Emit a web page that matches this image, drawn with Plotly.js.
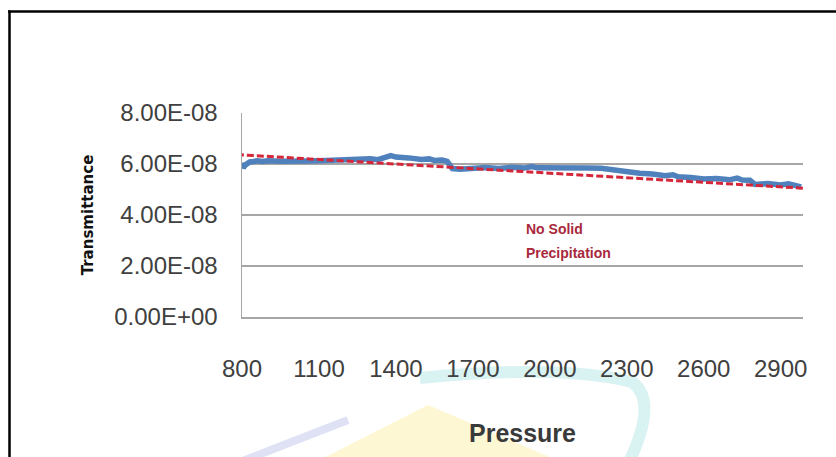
<!DOCTYPE html>
<html>
<head>
<meta charset="utf-8">
<script src="https://cdn.plot.ly/plotly-3.0.1.min.js"></script>
<style>
  html, body { margin: 0; padding: 0; background: #ffffff; }
  #chart { width: 836px; height: 457px; }
</style>
</head>
<body>
<div id="chart"></div>
<script>
const pressure = [800, 805, 812, 820, 830, 845, 860, 880, 900, 950, 1000, 1050, 1100, 1150, 1200, 1230, 1250, 1300, 1330, 1350, 1380, 1400, 1430, 1450, 1500, 1530, 1550, 1580, 1600, 1620, 1650, 1700, 1750, 1800, 1850, 1900, 1930, 1950, 2000, 2050, 2100, 2150, 2200, 2250, 2300, 2350, 2400, 2450, 2480, 2500, 2550, 2600, 2650, 2700, 2730, 2750, 2780, 2800, 2850, 2900, 2930, 2950, 2980];
const transmittance = [6.05e-8, 5.85e-8, 5.95e-8, 6.02e-8, 6.08e-8, 6.1e-8, 6.13e-8, 6.1e-8, 6.13e-8, 6.11e-8, 6.14e-8, 6.12e-8, 6.13e-8, 6.15e-8, 6.18e-8, 6.14e-8, 6.2e-8, 6.21e-8, 6.17e-8, 6.25e-8, 6.33e-8, 6.27e-8, 6.22e-8, 6.24e-8, 6.18e-8, 6.2e-8, 6.14e-8, 6.16e-8, 6.1e-8, 5.82e-8, 5.79e-8, 5.84e-8, 5.86e-8, 5.82e-8, 5.87e-8, 5.84e-8, 5.9e-8, 5.85e-8, 5.86e-8, 5.83e-8, 5.87e-8, 5.84e-8, 5.83e-8, 5.75e-8, 5.71e-8, 5.64e-8, 5.61e-8, 5.54e-8, 5.58e-8, 5.5e-8, 5.47e-8, 5.41e-8, 5.43e-8, 5.38e-8, 5.45e-8, 5.37e-8, 5.36e-8, 5.2e-8, 5.23e-8, 5.18e-8, 5.22e-8, 5.17e-8, 5.1e-8];

// Linear trend (red dashed)
const trendPressure = [780, 2987];
const trendTransmittance = [6.37e-8, 5.05e-8];

// Axis ticks
const xTickVals = [800, 1100, 1400, 1700, 2000, 2300, 2600, 2900];
const xTickText = ["800", "1100", "1400", "1700", "2000", "2300", "2600", "2900"];
const yTickVals = [0, 2e-8, 4e-8, 6e-8, 8e-8];
const yTickText = ["0.00E+00", "2.00E-08", "4.00E-08", "6.00E-08", "8.00E-08"];

const noteLines = ["No Solid", "Precipitation"];

const tickFont = { family: "'Liberation Sans Narrow', 'Arial Narrow', 'Liberation Sans', sans-serif", size: 24, color: "#404040" };

const traces = [
  {
    x: pressure, y: transmittance, type: "scatter", mode: "lines",
    line: { color: "#4f81bd", width: 5.5 }, hoverinfo: "skip", showlegend: false
  },
  {
    x: trendPressure, y: trendTransmittance, type: "scatter", mode: "lines",
    line: { color: "#d4283a", width: 3, dash: "7px,3px" }, hoverinfo: "skip", showlegend: false, cliponaxis: false
  }
];

// pixel -> paper helpers for decorative watermark / border
const L = 242, R = 803, T = 113, B = 317;
const px = v => (v - L) / (R - L);
const py = v => (B - v) / (B - T);

const shapes = [
  // faint watermark
  { type: "path", xref: "paper", yref: "paper", layer: "below",
    path: `M ${px(300)} ${py(470)} L ${px(428)} ${py(405)} L ${px(580)} ${py(470)} Z`,
    fillcolor: "rgba(253,240,170,0.5)", line: { width: 0 } },
  { type: "path", xref: "paper", yref: "paper", layer: "below",
    path: `M ${px(420)} ${py(378)} Q ${px(560)} ${py(364)} ${px(632)} ${py(382)} Q ${px(660)} ${py(402)} ${px(625)} ${py(470)}`,
    line: { color: "rgba(180,230,230,0.5)", width: 12 } },
  { type: "line", xref: "paper", yref: "paper", layer: "below",
    x0: px(240), y0: py(462), x1: px(348), y1: py(420),
    line: { color: "rgba(205,210,238,0.65)", width: 8 } },
  // frame border (top and left)
  { type: "line", xref: "paper", yref: "paper", x0: px(8), y0: py(11.5), x1: px(840), y1: py(11.5),
    line: { color: "#000000", width: 2.5 } },
  { type: "line", xref: "paper", yref: "paper", x0: px(9.5), y0: py(10.5), x1: px(9.5), y1: py(460),
    line: { color: "#000000", width: 2.5 } }
];

const layout = {
  width: 836, height: 457,
  margin: { l: L, r: 836 - R, t: T, b: 457 - B, pad: 0 },
  paper_bgcolor: "#ffffff", plot_bgcolor: "#ffffff",
  showlegend: false,
  xaxis: {
    type: "linear", range: [800, 2987], autorange: false,
    tickmode: "array", tickvals: xTickVals, ticktext: xTickText,
    showgrid: false, zeroline: false, showline: true, linecolor: "#a6a6a6", linewidth: 1.5,
    ticks: "", ticklabelstandoff: 30, tickfont: tickFont,
    title: { text: "Pressure", standoff: 43,
      font: { family: "'Liberation Sans Narrow', 'Arial Narrow', 'Liberation Sans', sans-serif", size: 25, color: "#3a3a3a", weight: "bold" } }
  },
  yaxis: {
    range: [0, 8e-8], autorange: false,
    tickmode: "array", tickvals: yTickVals, ticktext: yTickText,
    showgrid: true, gridcolor: "#a6a6a6", gridwidth: 1.5,
    zeroline: false, showline: true, linecolor: "#a6a6a6", linewidth: 1.5,
    ticks: "", ticklabelstandoff: 18, tickfont: tickFont,
    title: { text: "Transmittance", standoff: 17,
      font: { family: "'DejaVu Sans', sans-serif", size: 15, color: "#111111", weight: "bold" } }
  },
  annotations: [
    { xref: "paper", yref: "paper", x: px(524), y: py(229), xanchor: "left", yanchor: "middle",
      text: noteLines[0], showarrow: false,
      font: { family: "'Liberation Sans', Arial, sans-serif", size: 14, color: "#a8283c", weight: "bold" } },
    { xref: "paper", yref: "paper", x: px(524), y: py(253), xanchor: "left", yanchor: "middle",
      text: noteLines[1], showarrow: false,
      font: { family: "'Liberation Sans', Arial, sans-serif", size: 14, color: "#a8283c", weight: "bold" } }
  ],
  shapes: shapes
};

Plotly.newPlot("chart", traces, layout, { staticPlot: true, displayModeBar: false });
</script>
</body>
</html>
